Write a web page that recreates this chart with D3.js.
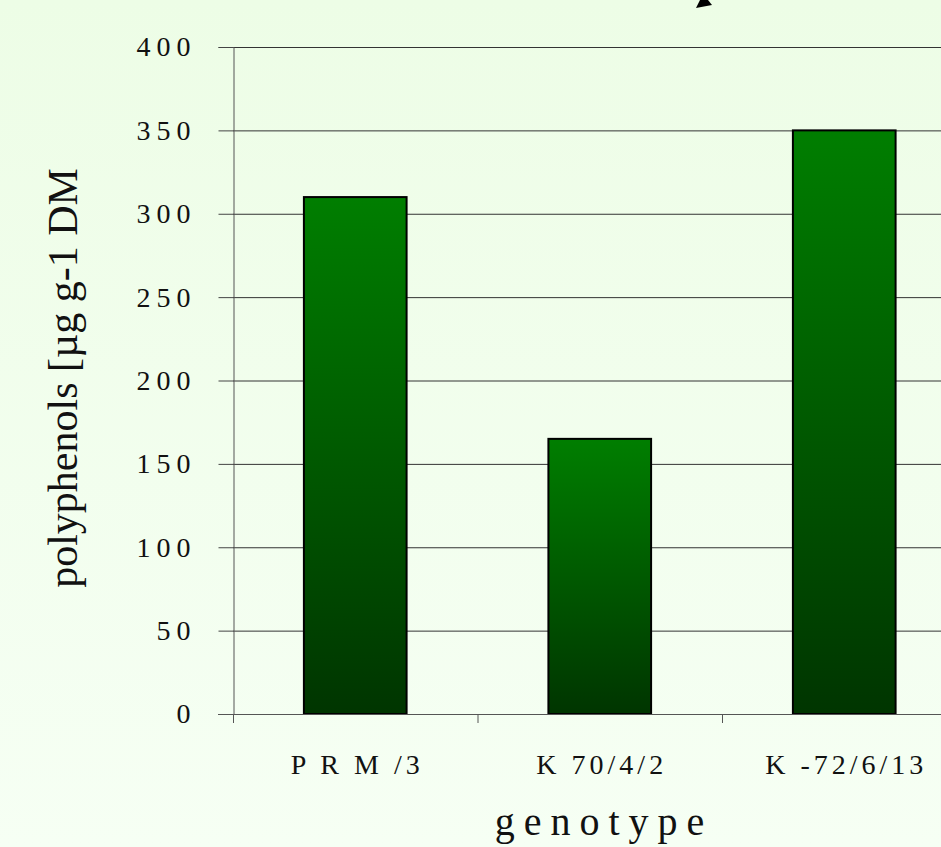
<!DOCTYPE html>
<html><head><meta charset="utf-8">
<script src="https://cdn.jsdelivr.net/npm/d3@7"></script>
<style>html,body{margin:0;padding:0;overflow:hidden;}</style>
</head><body>
<svg id="c" width="941" height="847"></svg>
<script>
const categories = ["P R M /3", "K 70/4/2", "K -72/6/13"];
const values = [310, 165, 350];
const yTicks = [0, 50, 100, 150, 200, 250, 300, 350, 400];

(function(){
const svg = d3.select("#c");
const W = 941, H = 847;
const FONT = "'Liberation Serif', 'Times New Roman', serif";
const defs = svg.append("defs");
const bg = defs.append("linearGradient").attr("id","bg").attr("x1",0).attr("y1",0).attr("x2",0).attr("y2",1);
bg.append("stop").attr("offset","0%").attr("stop-color","#edfde6");
bg.append("stop").attr("offset","100%").attr("stop-color","#f6fff4");
const bar = defs.append("linearGradient").attr("id","bar").attr("x1",0).attr("y1",0).attr("x2",0).attr("y2",1);
bar.append("stop").attr("offset","0%").attr("stop-color","#007e00");
bar.append("stop").attr("offset","100%").attr("stop-color","#003500");

svg.append("rect").attr("width",W).attr("height",H).attr("fill","url(#bg)");

const mLeft = 233, mTop = 47, mBottom = 714;
const step = 244.5;
const x = d3.scaleBand().domain(categories).range([mLeft, mLeft + 3*step]).paddingInner(0.58).paddingOuter(0.29);
const y = d3.scaleLinear().domain([0, 400]).range([mBottom, mTop]);

// gridlines
svg.append("g").selectAll("line").data(yTicks.filter(d=>d>0)).join("line")
  .attr("x1", mLeft).attr("x2", W).attr("y1", d=>y(d)+0.5).attr("y2", d=>y(d)+0.5)
  .attr("stroke", "#333").attr("stroke-width", 1);

// bars
svg.append("g").selectAll("rect").data(values).join("rect")
  .attr("x", (d,i)=>x(categories[i])).attr("width", x.bandwidth())
  .attr("y", d=>y(d)).attr("height", d=>mBottom - y(d))
  .attr("fill", "url(#bar)").attr("stroke", "#000").attr("stroke-width", 2);

// y axis
const yAxis = svg.append("g").attr("transform", `translate(${mLeft+0.5},0)`)
  .call(d3.axisLeft(y).tickValues(yTicks).tickSize(15).tickPadding(22).tickFormat(d=>String(d)));
yAxis.select(".domain").attr("stroke","#555");
yAxis.selectAll(".tick line").attr("stroke","#444");
yAxis.selectAll(".tick text").attr("font-family", FONT)
  .attr("font-size", 28).attr("letter-spacing", "6px").attr("fill","#111");

// x axis
const xTickPos = d3.range(4).map(i => mLeft + i*step);
svg.append("line").attr("x1", 218).attr("x2", W).attr("y1", mBottom+0.5).attr("y2", mBottom+0.5).attr("stroke","#555");
svg.append("g").selectAll("line").data(xTickPos).join("line")
  .attr("x1", d=>d+0.5).attr("x2", d=>d+0.5).attr("y1", mBottom).attr("y2", mBottom+9).attr("stroke","#555");
svg.append("g").selectAll("text").data(categories).join("text")
  .attr("x", d=>x(d)+x.bandwidth()/2 + 2).attr("y", 774)
  .attr("text-anchor","middle")
  .attr("font-family", FONT)
  .attr("font-size", 28).attr("letter-spacing","4px").attr("fill","#111")
  .text(d=>d);

// axis titles
svg.append("text").attr("x", 604).attr("y", 835).attr("text-anchor","middle")
  .attr("font-family", FONT)
  .attr("font-size", 40).attr("letter-spacing","9px").attr("fill","#111").text("genotype");
svg.append("text").attr("transform","translate(77,378) rotate(-90)").attr("text-anchor","middle")
  .attr("font-family", FONT)
  .attr("font-size", 42).attr("fill","#111").text("polyphenols [µg g-1 DM");

// arrowhead fragment at top
svg.append("path").attr("d","M700,0 L708,0 L712,5 L696,8 Z").attr("fill","#000");
})();
</script>
</body></html>
